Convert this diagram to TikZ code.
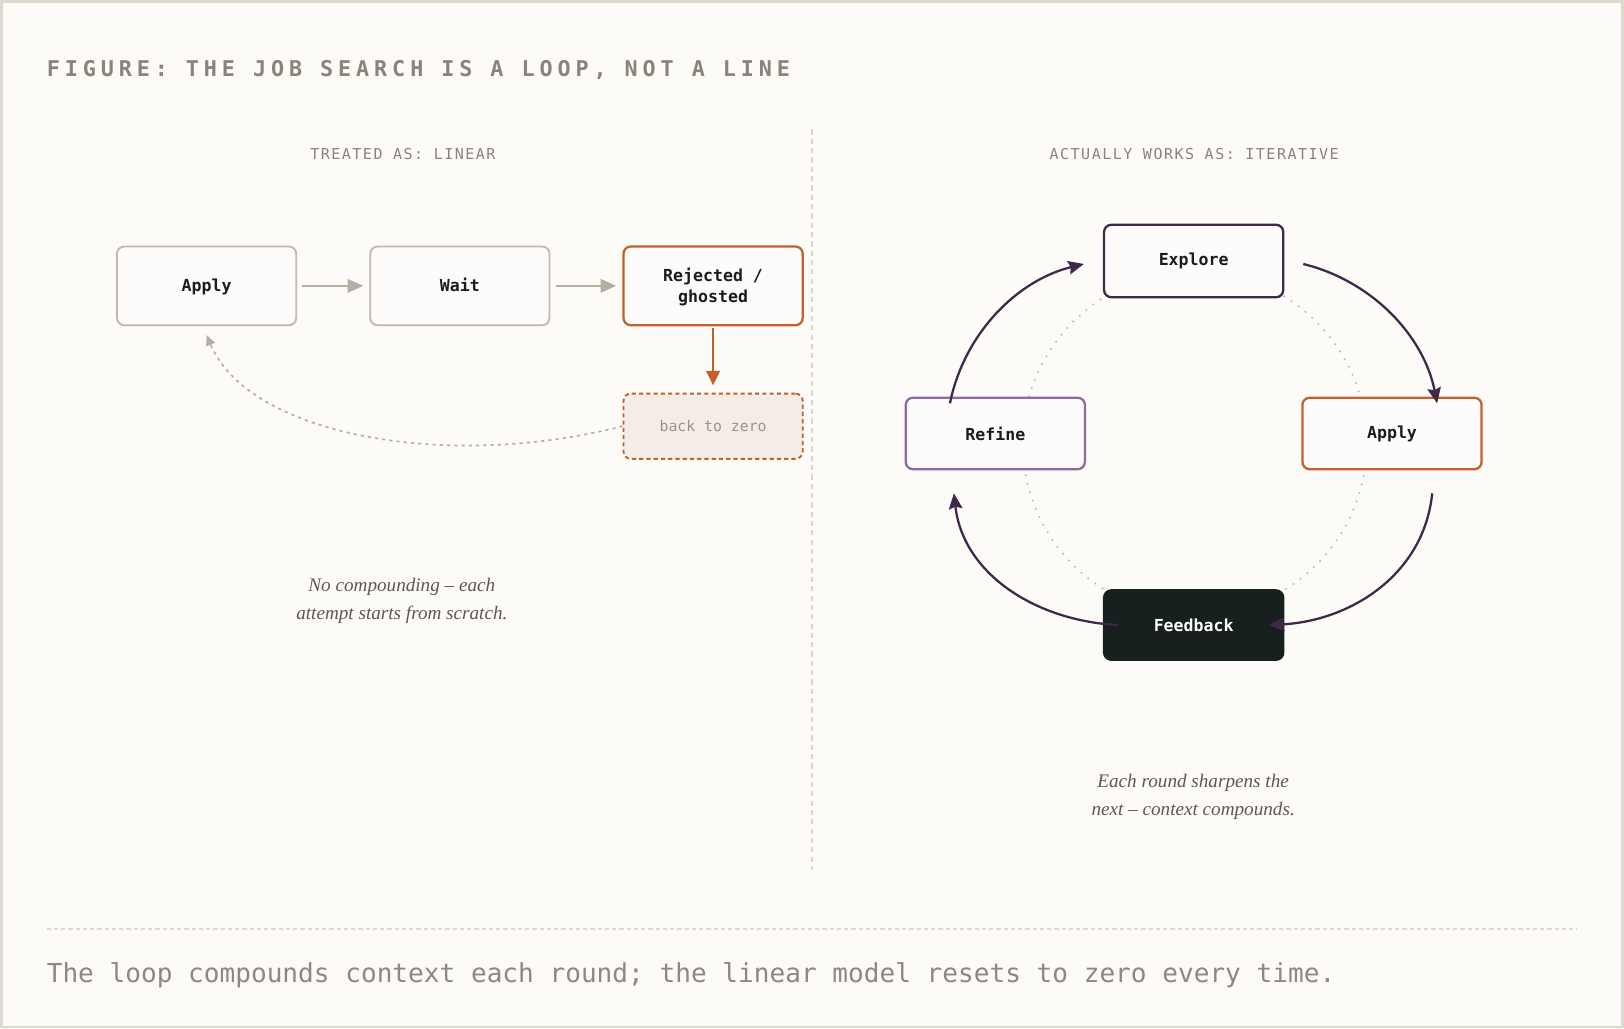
\documentclass[tikz,border=0pt]{standalone}
\usepackage{fontspec}
\usetikzlibrary{arrows.meta}
\setmainfont{Liberation Serif}
\newfontfamily\monofont{DejaVu Sans Mono}
\newfontfamily\titlefont[LetterSpace=22.6]{DejaVu Sans Mono}
\newfontfamily\subfont[LetterSpace=10]{DejaVu Sans Mono}
\definecolor{bg}{HTML}{FCFBF8}
\definecolor{framec}{HTML}{E0D9CD}
\definecolor{titlec}{HTML}{8A8377}
\definecolor{footc}{HTML}{8E887E}
\definecolor{divc}{HTML}{DCD5CA}
\definecolor{grayb}{HTML}{BFB9AE}
\definecolor{grayarr}{HTML}{B5AEA3}
\definecolor{orangec}{HTML}{C2612B}
\definecolor{btzfill}{HTML}{F4ECE7}
\definecolor{btztext}{HTML}{9A9389}
\definecolor{dpurple}{HTML}{3E2A48}
\definecolor{lpurple}{HTML}{8F6B9D}
\definecolor{darkfill}{HTML}{17201E}
\definecolor{ink}{HTML}{1C1C1C}
\definecolor{boxfill}{HTML}{FDFCFA}
\definecolor{dotc}{HTML}{BDB7CC}
\definecolor{capc}{HTML}{5E5851}
\tikzset{
  box/.style={rectangle, rounded corners=7pt, minimum width=173pt, inner sep=0pt, align=center,
    font=\monofont\bfseries\fontsize{16}{20}\selectfont, text=ink, fill=boxfill},
  linbox/.style={box, draw=grayb, line width=1.8pt, minimum height=76pt, text depth=1.5pt},
  loopbox/.style={box, line width=2.2pt, minimum height=69pt},
  garrow/.style={draw=grayarr, line width=2.2pt, -{Triangle[length=15pt,width=13pt]}},
  oarrow/.style={draw=orangec, line width=2.2pt, -{Triangle[length=14pt,width=13pt]}},
  backcurve/.style={draw=grayarr, line width=1.6pt, dash pattern=on 3pt off 4pt, -{Triangle[length=10pt,width=9pt]}},
  looparc/.style={draw=dpurple, line width=2.2pt, -{Stealth[length=15pt,width=13pt,inset=2pt]}},
  caption/.style={font=\itshape\fontsize{18.5}{27}\selectfont, text=capc, align=center},
  sublabel/.style={font=\subfont\fontsize{14.5}{17}\selectfont, text=titlec, anchor=base, inner sep=0pt}
}
\begin{document}
\begin{tikzpicture}[x=1pt,y=-1pt]
\useasboundingbox (0,0) rectangle (1568,993);
\fill[bg] (0,0) rectangle (1568,993);
\draw[framec, line width=2.5pt] (1.25,1.25) rectangle (1566.75,991.75);

\node[font=\titlefont\bfseries\fontsize{21}{25}\selectfont, text=titlec, anchor=base west, inner sep=0pt] (title) at (45,74) {FIGURE: THE JOB SEARCH IS A LOOP, NOT A LINE};

\node[sublabel] (subL) at (389,154) {TREATED AS: LINEAR};
\node[sublabel] (subR) at (1153,154) {ACTUALLY WORKS AS: ITERATIVE};

\draw[divc, line width=1.2pt, dash pattern=on 5pt off 4pt] (784,125) -- (784,840);

% left: linear
\node[linbox] (apply1) at (199.5,276) {Apply};
\node[linbox] (wait) at (444,276) {Wait};
\node[linbox, draw=orangec, line width=2.2pt] (rej) at (688.5,276) {Rejected /\\ghosted};
\node[box, minimum height=63pt, draw=orangec, line width=1.8pt, dash pattern=on 4pt off 3pt, fill=btzfill,
  font=\monofont\fontsize{14.3}{17}\selectfont, text=btztext] (btz) at (688.5,411.5) {back to zero};
\coordinate (btip) at (199.5,323.5);

\draw[garrow, shorten <=5pt, shorten >=6pt] (apply1.east) -- (wait.west);
\draw[garrow, shorten <=5pt, shorten >=6pt] (wait.east) -- (rej.west);
\draw[oarrow, shorten <=2pt, shorten >=7pt] (rej.south) -- (btz.north);
\draw[backcurve] (btz.west) .. controls (430,455) and (240,420) .. (btip);

\node[caption] (capL) at (388,580) {No compounding -- each\\attempt starts from scratch.};

% right: loop
\draw[dotc, line width=2.2pt, line cap=round, dash pattern=on 0pt off 8.5pt] (1153.5,428) circle[radius=166pt];

\node[loopbox, draw=dpurple, minimum height=70pt] (explore) at (1152.5,252) {Explore};
\node[loopbox, draw=lpurple] (refine) at (961,418.5) {Refine};
\node[loopbox, draw=orangec] (apply2) at (1344,418.5) {Apply};
\node[loopbox, draw=darkfill, fill=darkfill, text=white, minimum height=67pt] (feedback) at (1152.5,603.5) {Feedback};

\coordinate (a1s) at (1258.3,254.9);
\coordinate (a1e) at (1387.6,389.4);
\coordinate (a2s) at (1382.8,476.3);
\coordinate (a2e) at (1225,603.5);
\coordinate (a3s) at (1079.8,603.5);
\coordinate (a3e) at (921,476.3);
\coordinate (a4s) at (917.2,389.4);
\coordinate (a4e) at (1046.5,254.9);
\draw[looparc] (a1s) .. controls (1323.9,270.9) and (1374.4,323.5) .. (a1e);
\draw[looparc] (a2s) .. controls (1375,554) and (1305,599.5) .. (a2e);
\draw[looparc] (a3s) .. controls (999.8,599.5) and (929.8,554) .. (a3e);
\draw[looparc] (a4s) .. controls (930.4,323.5) and (980.9,270.9) .. (a4e);

\node[caption] (capR) at (1152,769) {Each round sharpens the\\next -- context compounds.};

% footer
\draw[framec, line width=1.5pt, dash pattern=on 4pt off 3pt] (45,897) -- (1523,897);
\node[font=\monofont\fontsize{25.2}{30}\selectfont, text=footc, anchor=base west, inner sep=0pt] (foot) at (45,949) {The loop compounds context each round; the linear model resets to zero every time.};
\end{tikzpicture}
\end{document}
